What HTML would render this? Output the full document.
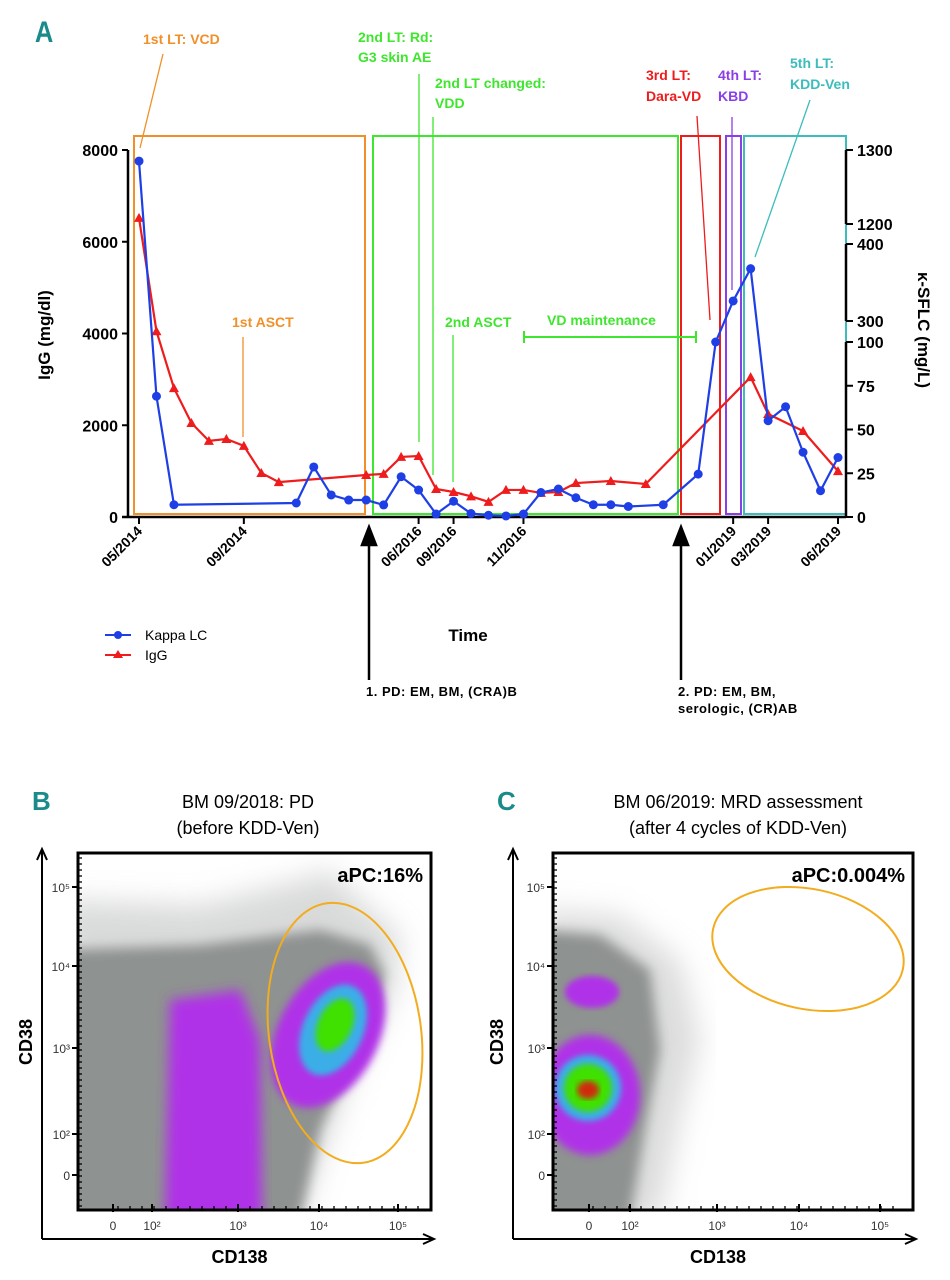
<!DOCTYPE html>
<html><head><meta charset="utf-8">
<style>
html,body{margin:0;padding:0;background:#fff}
svg{display:block;font-family:"Liberation Sans",Arial,sans-serif}
</style></head>
<body>
<svg id="fig" width="950" height="1280" viewBox="0 0 950 1280" xmlns="http://www.w3.org/2000/svg">
<defs>
<filter id="b3"><feGaussianBlur stdDeviation="3"/></filter>
<filter id="b4"><feGaussianBlur stdDeviation="4"/></filter>
<filter id="b6"><feGaussianBlur stdDeviation="6"/></filter>
<filter id="b8"><feGaussianBlur stdDeviation="8"/></filter>
<filter id="b14"><feGaussianBlur stdDeviation="14"/></filter>
<clipPath id="clipB"><rect x="78" y="853" width="353" height="357"/></clipPath>
<clipPath id="clipC"><rect x="553" y="853" width="360" height="357"/></clipPath>
</defs>
<g id="chartA"></g>
<g id="panelB"></g>
<g id="panelC"></g>
</svg>
<script>
// ---------- Chart A data ----------
const dateLabels = ["05/2014","09/2014","06/2016","09/2016","11/2016","01/2019","03/2019","06/2019"];
const dateIdx = [0,6,16,18,22,34,36,40];
const kappaIdx = [0,1,2,9,10,11,12,13,14,15,16,17,18,19,20,21,22,23,24,25,26,27,28,30,32,33,34,35,36,37,38,39,40];
const kappaVal = [1285,69,7,8,28.6,12.6,9.7,9.7,6.9,23,15.4,1.7,9,2,1,0.6,1.7,14,16,11,7,7,6,7,24.5,100,326,368,55,63,37,15,34];
const iggIdx = [0,1,2,3,4,5,6,7,8,13,14,15,16,17,18,19,20,21,22,23,24,25,27,29,35,36,38,40];
const iggVal = [6520,4050,2810,2050,1660,1700,1550,960,760,915,940,1310,1330,610,545,450,330,590,590,525,545,740,785,720,3050,2245,1875,1000];
const leftTicks = [0,2000,4000,6000,8000];
const rightTicks = [0,25,50,75,100,300,400,1200,1300];

const NS="http://www.w3.org/2000/svg";
function mk(parent,tag,attrs,text){const e=document.createElementNS(NS,tag);for(const k in attrs)e.setAttribute(k,attrs[k]);if(text!==undefined)e.textContent=text;parent.appendChild(e);return e;}
const X0=139, DX=(838-139)/40;
function xA(i){return X0+i*DX;}
function yL(v){return 517-v*(367/8000);}
function yR(v){if(v<=100)return 517-v*1.75;if(v<=400)return 321-(v-300)*0.77;return 224-(v-1200)*0.74;}

const A=document.getElementById('chartA');
let e;
e=mk(A,'text',{x:35,y:42,fill:'#1a8a8a','font-size':30,'font-weight':'bold',transform:'scale(0.85,1) translate(6,0)'},'A');



const boxes=[[134,365,'#f0902a','orange-box'],[373,678,'#3ee62e','green-box'],[681,720,'#ee1c1c','red-box'],[726,741,'#8a3ee8','purple-box'],[744,846,'#3cbcbc','cyan-box']];
boxes.forEach(b=>{e=mk(A,'rect',{x:b[0],y:136,width:b[1]-b[0],height:378,fill:'none',stroke:b[2],'stroke-width':2});

});

e=mk(A,'path',{d:'M128 150 V517 M122 517 H846',stroke:'#000','stroke-width':2.5,fill:'none'});


leftTicks.forEach(t=>{mk(A,'line',{x1:122,x2:128,y1:yL(t),y2:yL(t),stroke:'#000','stroke-width':2});
e=mk(A,'text',{x:118,y:yL(t)+6,'text-anchor':'end','font-size':16,'font-weight':'bold'},String(t));

});
e=mk(A,'path',{d:'M846 517 V342 M846 321 V244 M846 224 V150',stroke:'#000','stroke-width':2.5,fill:'none'});


rightTicks.forEach(t=>{const y=yR(t);mk(A,'line',{x1:846,x2:853,y1:y,y2:y,stroke:'#000','stroke-width':2});
e=mk(A,'text',{x:857,y:y+6,'font-size':16,'font-weight':'bold'},String(t));

});
dateIdx.forEach((d,k)=>{const x=xA(d);mk(A,'line',{x1:x,x2:x,y1:517,y2:524,stroke:'#000','stroke-width':2});
e=mk(A,'text',{x:x+4,y:532,'text-anchor':'end','font-size':14,'font-weight':'bold',transform:`rotate(-45 ${x+4} 532)`},dateLabels[k]);

});
e=mk(A,'text',{x:0,y:0,'font-size':17,'font-weight':'bold','text-anchor':'middle',transform:'translate(50 335) rotate(-90)'},'IgG (mg/dl)');


e=mk(A,'text',{x:0,y:0,'font-size':17,'font-weight':'bold','text-anchor':'middle',transform:'translate(918 330) rotate(90)'},'κ-SFLC (mg/L)');


e=mk(A,'text',{x:468,y:641,'font-size':17,'font-weight':'bold','text-anchor':'middle'},'Time');



e=mk(A,'polyline',{points:iggIdx.map((d,k)=>xA(d)+','+yL(iggVal[k])).join(' '),fill:'none',stroke:'#ee1c1c','stroke-width':2.2});


iggIdx.forEach((d,k)=>{const x=xA(d),y=yL(iggVal[k]);
e=mk(A,'polygon',{points:`${x},${y-5} ${x-5},${y+4} ${x+5},${y+4}`,fill:'#ee1c1c'});

});
e=mk(A,'polyline',{points:kappaIdx.map((d,k)=>xA(d)+','+yR(kappaVal[k])).join(' '),fill:'none',stroke:'#1e3ee6','stroke-width':2.2});


kappaIdx.forEach((d,k)=>{
e=mk(A,'circle',{cx:xA(d),cy:yR(kappaVal[k]),r:4.5,fill:'#1e3ee6'});

});

const notes=[
 ['1st LT: VCD',143,44,'#f0902a'],['2nd LT: Rd:',358,42,'#3ee62e'],['G3 skin AE',358,62,'#3ee62e'],
 ['2nd LT changed:',435,88,'#3ee62e'],['VDD',435,108,'#3ee62e'],['1st ASCT',232,327,'#f0902a'],
 ['2nd ASCT',445,327,'#3ee62e'],['VD maintenance',547,325,'#3ee62e'],
 ['3rd LT:',646,80,'#ee1c1c'],['Dara-VD',646,101,'#ee1c1c'],['4th LT:',718,80,'#8a3ee8'],['KBD',718,101,'#8a3ee8'],
 ['5th LT:',790,68,'#3cbcbc'],['KDD-Ven',790,89,'#3cbcbc']];
notes.forEach(n=>{e=mk(A,'text',{x:n[1],y:n[2],fill:n[3],'font-size':14,'font-weight':'bold'},n[0]);

});
const leaders=[[163,54,140,148,'#f0902a'],[419,74,419,442,'#3ee62e'],[433,117,433,475,'#3ee62e'],[243,337,243,437,'#f0902a'],
 [453,335,453,482,'#3ee62e'],[697,116,710,320,'#ee1c1c'],[732,117,732,290,'#8a3ee8'],[810,100,755,257,'#3cbcbc']];
leaders.forEach(l=>{e=mk(A,'line',{x1:l[0],y1:l[1],x2:l[2],y2:l[3],stroke:l[4],'stroke-width':1.3});

});
e=mk(A,'path',{d:'M524 337 H696 M524 331 V343 M696 331 V343',stroke:'#3ee62e','stroke-width':2,fill:'none'});


[[369,'1. PD: EM, BM, (CRA)B',null],[681,'2. PD: EM, BM,','serologic, (CR)AB']].forEach(p=>{
e=mk(A,'path',{d:`M${p[0]} 680 V535 M${p[0]-7} 545 L${p[0]} 527 L${p[0]+7} 545 Z`,stroke:'#000','stroke-width':2.5,fill:'#000'});


e=mk(A,'text',{x:p[0]-3,y:696,'font-size':13,'font-weight':'bold','letter-spacing':'0.5'},p[1]);


if(p[2]){e=mk(A,'text',{x:p[0]-3,y:713,'font-size':13,'font-weight':'bold','letter-spacing':'0.5'},p[2]);

}});
e=mk(A,'g',{});


mk(e,'line',{x1:105,x2:131,y1:635,y2:635,stroke:'#1e3ee6','stroke-width':2});
mk(e,'circle',{cx:118,cy:635,r:4,fill:'#1e3ee6'});
mk(e,'text',{x:145,y:640,'font-size':14},'Kappa LC');
mk(e,'line',{x1:105,x2:131,y1:655,y2:655,stroke:'#ee1c1c','stroke-width':2});
mk(e,'polygon',{points:'118,650 113,658 123,658',fill:'#ee1c1c'});
mk(e,'text',{x:145,y:660,'font-size':14},'IgG');

function panel(G,o){
 let e;
 e=mk(G,'text',{x:o.lx,y:810,fill:'#1a8a8a','font-size':26,'font-weight':'bold'},o.letter);
 
 
 o.title.forEach((t,k)=>{e=mk(G,'text',{x:o.tx,y:808+k*26,'font-size':18,'text-anchor':'middle'},t);
 
 });
 const g=mk(G,'g',{'clip-path':`url(#${o.clip})`});
 
 
 o.blobs.forEach(b=>{
  if(b.pts){mk(g,'polygon',{points:b.pts,fill:b.c,opacity:b.op||1,filter:`url(#${b.f})`});}
  else mk(g,'ellipse',{cx:b[0],cy:b[1],rx:b[2],ry:b[3],fill:b[4],filter:`url(#${b[5]})`,transform:`rotate(${b[6]||0} ${b[0]} ${b[1]})`});
 });
 e=mk(G,'rect',{x:o.bx,y:853,width:o.bw,height:357,fill:'none',stroke:'#000','stroke-width':3});
 
 
 for(let y=858;y<1208;y+=6){mk(G,'line',{x1:o.bx,x2:o.bx+4,y1:y,y2:y,stroke:'#000','stroke-width':1.3});}
 for(let x=o.bx+40;x<o.bx+o.bw-10;x+=12){mk(G,'line',{x1:x,x2:x,y1:1206,y2:1210,stroke:'#000','stroke-width':1.3});}
 e=mk(G,'ellipse',{cx:o.el[0],cy:o.el[1],rx:o.el[2],ry:o.el[3],fill:'none',stroke:'#f2ac1e','stroke-width':2,transform:`rotate(${o.el[4]} ${o.el[0]} ${o.el[1]})`});
 
 
 e=mk(G,'text',{x:o.bx+o.bw-8,y:882,'font-size':20,'font-weight':'bold','text-anchor':'end'},o.apc);
 
 
 e=mk(G,'path',{d:`M${o.ax} 1239 V851 M${o.ax-5} 860 L${o.ax} 849 L${o.ax+5} 860 M${o.ax} 1239 H${o.bx+o.bw+2} M${o.bx+o.bw-8} 1234 L${o.bx+o.bw+3} 1239 L${o.bx+o.bw-8} 1244`,stroke:'#000','stroke-width':2,fill:'none'});
 
 
 const yl=[['10⁵',887],['10⁴',966],['10³',1048],['10²',1134],['0',1175]];
 yl.forEach(t=>{mk(G,'line',{x1:o.bx-6,x2:o.bx,y1:t[1],y2:t[1],stroke:'#000','stroke-width':2});
 e=mk(G,'text',{x:o.bx-8,y:t[1]+5,'font-size':12,'text-anchor':'end',fill:'#333'},t[0]);
 
 });
 ['0','10²','10³','10⁴','10⁵'].forEach((t,k)=>{const x=o.xt[k];mk(G,'line',{x1:x,x2:x,y1:1204,y2:1212,stroke:'#000','stroke-width':2});
 e=mk(G,'text',{x:x,y:1230,'font-size':12,'text-anchor':'middle',fill:'#333'},t);
 
 });
 e=mk(G,'text',{x:0,y:0,'font-size':18,'font-weight':'bold','text-anchor':'middle',transform:`translate(${o.ax-10} 1042) rotate(-90)`},'CD38');
 
 
 e=mk(G,'text',{x:o.bx+o.bw/2-15,y:1263,'font-size':18,'font-weight':'bold','text-anchor':'middle'},'CD138');
 
 
}
panel(document.getElementById('panelB'),{letter:'B',lx:32,tx:248,title:['BM 09/2018: PD','(before KDD-Ven)'],clip:'clipB',bx:78,bw:353,ax:42,
 xt:[113,152,238,319,398],el:[345,1033,76,131,-8],apc:'aPC:16%',
 blobs:[
  {pts:'60,900 200,905 300,880 330,870 360,900 400,935 395,990 350,1080 320,1160 300,1220 60,1220',c:'#c0c3c1',f:'b14',op:0.6},
  {pts:'60,950 200,945 320,930 370,945 385,975 355,1050 320,1130 300,1220 60,1220',c:'#8e9290',f:'b6'},
  {pts:'170,1000 240,990 260,1040 262,1220 165,1220',c:'#b030e8',f:'b6'},
  [328,1035,50,78,'#b030e8','b4',28],[333,1030,30,48,'#3aaee8','b3',25],[335,1025,17,28,'#40e000','b3',25]]});
panel(document.getElementById('panelC'),{letter:'C',lx:497,tx:738,title:['BM 06/2019: MRD assessment','(after 4 cycles of KDD-Ven)'],clip:'clipC',bx:553,bw:360,ax:513,
 xt:[589,630,717,799,880],el:[808,949,97,60,12],apc:'aPC:0.004%',
 blobs:[
  {pts:'540,910 620,915 680,960 700,1040 680,1120 660,1220 540,1220',c:'#c4c6c5',f:'b14',op:0.6},
  {pts:'540,930 600,935 650,970 660,1050 645,1130 630,1220 540,1220',c:'#8e9290',f:'b6'},
  [592,992,27,16,'#b030e8','b3',0],[590,1095,50,60,'#b030e8','b4',0],[588,1088,33,33,'#3aaee8','b3',0],[588,1088,24,24,'#40e000','b3',0],[588,1090,11,9,'#d02a10','b3',0]]});
</script>
</body></html>
